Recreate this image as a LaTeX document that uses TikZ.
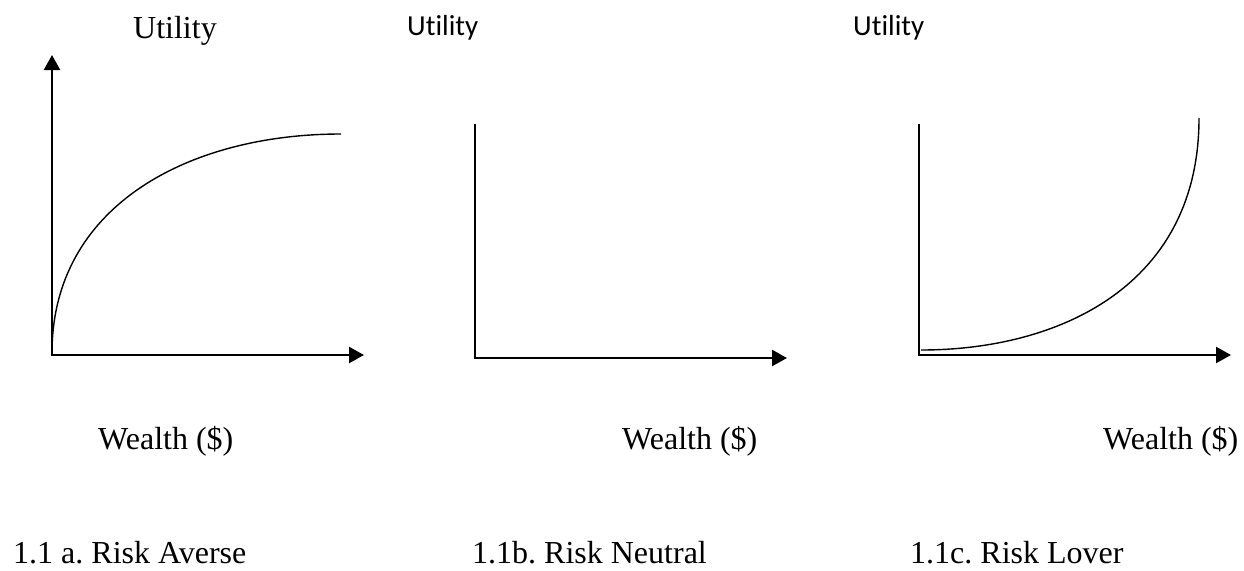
\documentclass[tikz,border=0pt]{standalone}
\usepackage{fontspec}
\setmainfont{Liberation Serif}
\newfontfamily\calibrifont[Ligatures=NoCommon]{Carlito}
\usetikzlibrary{arrows.meta}
\frenchspacing
\tikzset{
  axis/.style={line width=2.3pt, line cap=butt},
  axarrow/.style={axis, -{Triangle[length=15pt,width=16pt]}},
  curve/.style={line width=1.4pt},
  serif/.style={inner sep=0pt, anchor=base west, font=\fontsize{32}{36}\selectfont},
  sans/.style={inner sep=0pt, anchor=base west, font=\calibrifont\fontsize{29}{33}\selectfont},
}
\begin{document}
\begin{tikzpicture}[x=1pt,y=-1pt]
\useasboundingbox (0,0) rectangle (1244,570);
% Panel 1
\coordinate (o1) at (52,355);
\coordinate (y1) at (52,55);
\coordinate (x1) at (364,355);
\coordinate (c1s) at (52,353);
\coordinate (c1e) at (341,134);
\draw[axarrow] (o1) -- (y1);
\draw[axarrow] ([xshift=-1.15pt]o1) -- (x1);
\draw[curve] (c1s) .. controls (52,205) and (190,134) .. (c1e);
\node[serif] (u1) at (133,38) {Utility};
\node[serif] (w1) at (98,449) {Wealth (\$)};
\node[serif] (t1) at (13,563) {1.1 a. Risk Averse};
% Panel 2
\coordinate (o2) at (475,358);
\coordinate (y2) at (475,124);
\coordinate (x2) at (787,358);
\draw[axis] ([yshift=1.15pt]o2) -- (y2);
\draw[axarrow] ([xshift=-1.15pt]o2) -- (x2);
\node[sans] (u2) at (407,35) {Utility};
\node[serif] (w2) at (622,449) {Wealth (\$)};
\node[serif] (t2) at (472,563) {1.1b. Risk Neutral};
% Panel 3
\coordinate (o3) at (919,355);
\coordinate (y3) at (919,124);
\coordinate (x3) at (1231,355);
\coordinate (c3s) at (921,350);
\coordinate (c3e) at (1199,118);
\draw[axis] ([yshift=1.15pt]o3) -- (y3);
\draw[axarrow] ([xshift=-1.15pt]o3) -- (x3);
\draw[curve] (c3s) .. controls (1060,350) and (1199,285) .. (c3e);
\node[sans] (u3) at (853,35) {Utility};
\node[serif] (w3) at (1103,449) {Wealth (\$)};
\node[serif] (t3) at (910,563) {1.1c. Risk Lover};
\end{tikzpicture}
\end{document}
